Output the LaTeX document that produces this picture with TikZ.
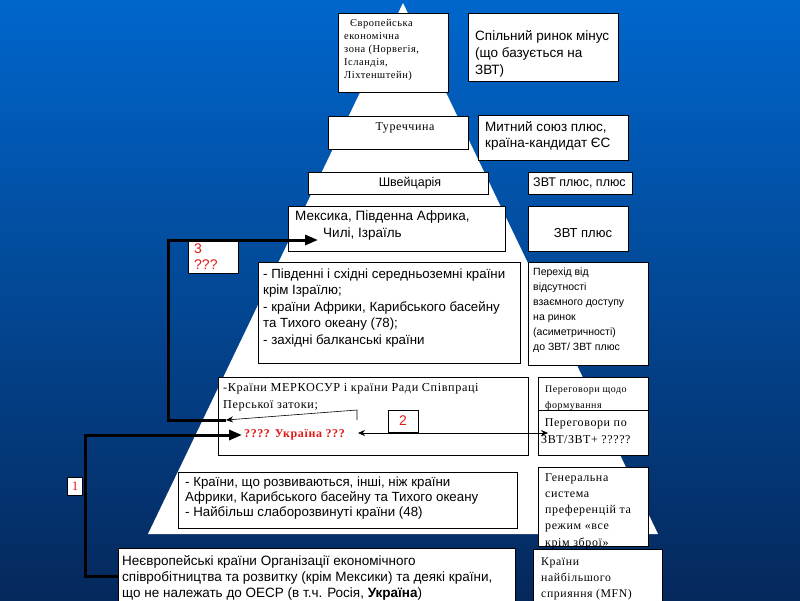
\documentclass[tikz,border=0pt]{standalone}
\usepackage{fontspec}
\setmainfont{Liberation Sans}
\newfontfamily\tms[LetterSpace=5]{Liberation Serif}
\usetikzlibrary{arrows.meta}
\definecolor{bgtop}{RGB}{0,102,204}
\definecolor{bgmid}{RGB}{0,82,170}
\definecolor{bgbot}{RGB}{5,40,92}
\definecolor{redlbl}{RGB}{225,25,25}
\newcommand\myfs[2]{\fontsize{#1}{#2}\selectfont}
\begin{document}
\begin{tikzpicture}[x=1pt,y=-1pt,
  box/.style={draw=black, fill=white, line width=0.6pt, inner sep=0pt, anchor=north west},
  txt/.style={inner sep=0pt, anchor=west, align=left},
  ctxt/.style={inner sep=0pt, anchor=center, align=center},
  thickarrow/.style={line width=3pt, -{Triangle[length=13pt,width=10pt]}},
  thinline/.style={line width=0.6pt}]
\useasboundingbox (0,0) rectangle (800,600);
\shade[top color=bgtop, middle color=bgmid, bottom color=bgbot] (0,0) rectangle (800,600);
% pyramid
\fill[white] (403,3) -- (658,534) -- (148,534) -- cycle;

% level 1
\node[box, minimum width=110, minimum height=79] (eez) at (338,13) {};
\node[txt, font=\tms\myfs{10.5}{13}] (eezT) at (344,50) {\hspace{6pt}Європейська\\економічна\\зона (Норвегія,\\Ісландія,\\Ліхтенштейн)};
\node[box, minimum width=150, minimum height=68] (sr) at (468,13) {};
\node[txt, font=\myfs{13.5}{17}] (srT) at (475,54) {Спільний ринок мінус\\(що базується на\\ЗВТ)};

% level 2
\node[box, minimum width=140, minimum height=33] (tur) at (328,116) {};
\node[ctxt, font=\tms\myfs{12}{14}] (turT) at (405,128) {Туреччина};
\node[box, minimum width=150, minimum height=45] (mu) at (478,115) {};
\node[txt, font=\myfs{13.5}{15.5}] (muT) at (485,136) {Митний союз  плюс,\\країна-кандидат ЄС};

% level 3
\node[box, minimum width=180, minimum height=22] (sw) at (308,172) {};
\node[ctxt, font=\myfs{12.5}{15}] (swT) at (410,183) {Швейцарія};
\node[box, minimum width=104, minimum height=22] (zp2) at (528,172) {};
\node[txt, font=\myfs{12.5}{15}] (zp2T) at (533,183) {ЗВТ плюс, плюс};

% level 4
\node[box, minimum width=217, minimum height=45] (mex) at (288,206) {};
\node[txt, font=\myfs{13.5}{17}] (mexT) at (295,226) {Мексика, Південна Африка,\\\hspace{28pt}Чилі, Ізраїль};
\node[box, minimum width=100, minimum height=45] (zp) at (528,206) {};
\node[ctxt, font=\myfs{13}{15}] (zpT) at (583,233) {ЗВТ плюс};

% level 5
\node[box, minimum width=262, minimum height=101] (south) at (258,262) {};
\node[txt, font=\myfs{13.3}{16.5}] (southT) at (263,308) {- Південні і східні середньоземні країни\\крім Ізраїлю;\\- країни Африки, Карибського басейну\\та Тихого океану (78);\\- західні балканські країни};
\node[box, minimum width=120, minimum height=103] (per) at (528,262) {};
\node[txt, font=\myfs{10.5}{15}] (perT) at (533,310) {Перехід  від\\відсутності\\взаємного  доступу\\на ринок\\(асиметричності)\\до ЗВТ/ ЗВТ плюс};
\node[box, minimum width=50, minimum height=32] (l3) at (188,241) {};
\node[txt, font=\myfs{14}{16}, text=redlbl] (l3T) at (194,257) {3\\???};

% level 6
\node[box, minimum width=310, minimum height=78] (merc) at (218,377) {};
\node[txt, font=\tms\myfs{12.2}{17}] (mercT) at (223,397) {-Країни МЕРКОСУР і країни Ради Співпраці\\Перської  затоки;};
\node[txt, font=\tms\bfseries\myfs{12}{15}, text=redlbl] (ua) at (244,435) {???? Україна ???};
\node[box, minimum width=110, minimum height=33] (neg1) at (538,377) {};
\node[txt, font=\tms\myfs{10}{16}] (neg1T) at (545,398) {Переговори щодо\\формування};
\node[box, minimum width=110, minimum height=45] (neg2) at (538,410) {};
\node[txt, font=\tms\myfs{12}{17}] (neg2T) at (541,431) {\ Переговори по\\ЗВТ/ЗВТ+  ?????};
\node[box, minimum width=30, minimum height=22] (l2) at (388,410) {};
\node[ctxt, font=\myfs{14}{16}, text=redlbl] (l2T) at (403,421) {2};

% level 7
\node[box, minimum width=339, minimum height=56] (dev) at (178,472) {};
\node[txt, font=\myfs{13.3}{15}] (devT) at (185,498) {- Країни, що розвиваються,  інші, ніж країни\\Африки, Карибського басейну  та Тихого океану\\- Найбільш слаборозвинуті країни (48)};
\node[box, minimum width=110, minimum height=79] (gen) at (538,467) {};
\node[txt, font=\tms\myfs{12}{16.3}] (genT) at (545,511) {Генеральна\\система\\преференцій  та\\режим «все\\крім зброї»};

% bottom
\node[box, minimum width=397, minimum height=56] (oecd) at (118,548) {};
\node[txt, font=\myfs{13.5}{16}] (oecdT) at (122,578) {Неєвропейські країни Організації економічного\\співробітництва та розвитку (крім Мексики)  та деякі країни,\\що не належать  до ОЕСР  (в т.ч. Росія, \textbf{Україна})};
\node[box, minimum width=129, minimum height=60] (mfn) at (533,549) {};
\node[txt, font=\tms\myfs{11.8}{16}] (mfnT) at (541,579) {Країни\\найбільшого\\сприяння (MFN)};
\node[box, minimum width=15, minimum height=18] (l1) at (67,477) {};
\node[ctxt, font=\tms\myfs{13}{14}, text=redlbl] (l1T) at (75,486) {1};

% connectors
\coordinate (k1) at (85,435);
\draw[thickarrow, shorten >=2pt] (oecd.west) -| (k1) -- (ua.west);
\coordinate (a3) at (226,420);
\coordinate (k3) at (168,240);
\coordinate (m3) at (318,240);
\draw[thickarrow] (a3) -| (k3) -- (m3);
\coordinate (q1) at (357,420);
\coordinate (q2) at (357,410);
\draw[thinline, -{Stealth[length=7pt,width=6pt]}] (q1) -- (q2) -- (a3);
\coordinate (d1) at (358,433);
\coordinate (d2) at (548,433);
\draw[thinline, {Stealth[length=7pt,width=6pt]}-{Stealth[length=7pt,width=6pt]}] (d1) -- (d2);
\end{tikzpicture}
\end{document}
